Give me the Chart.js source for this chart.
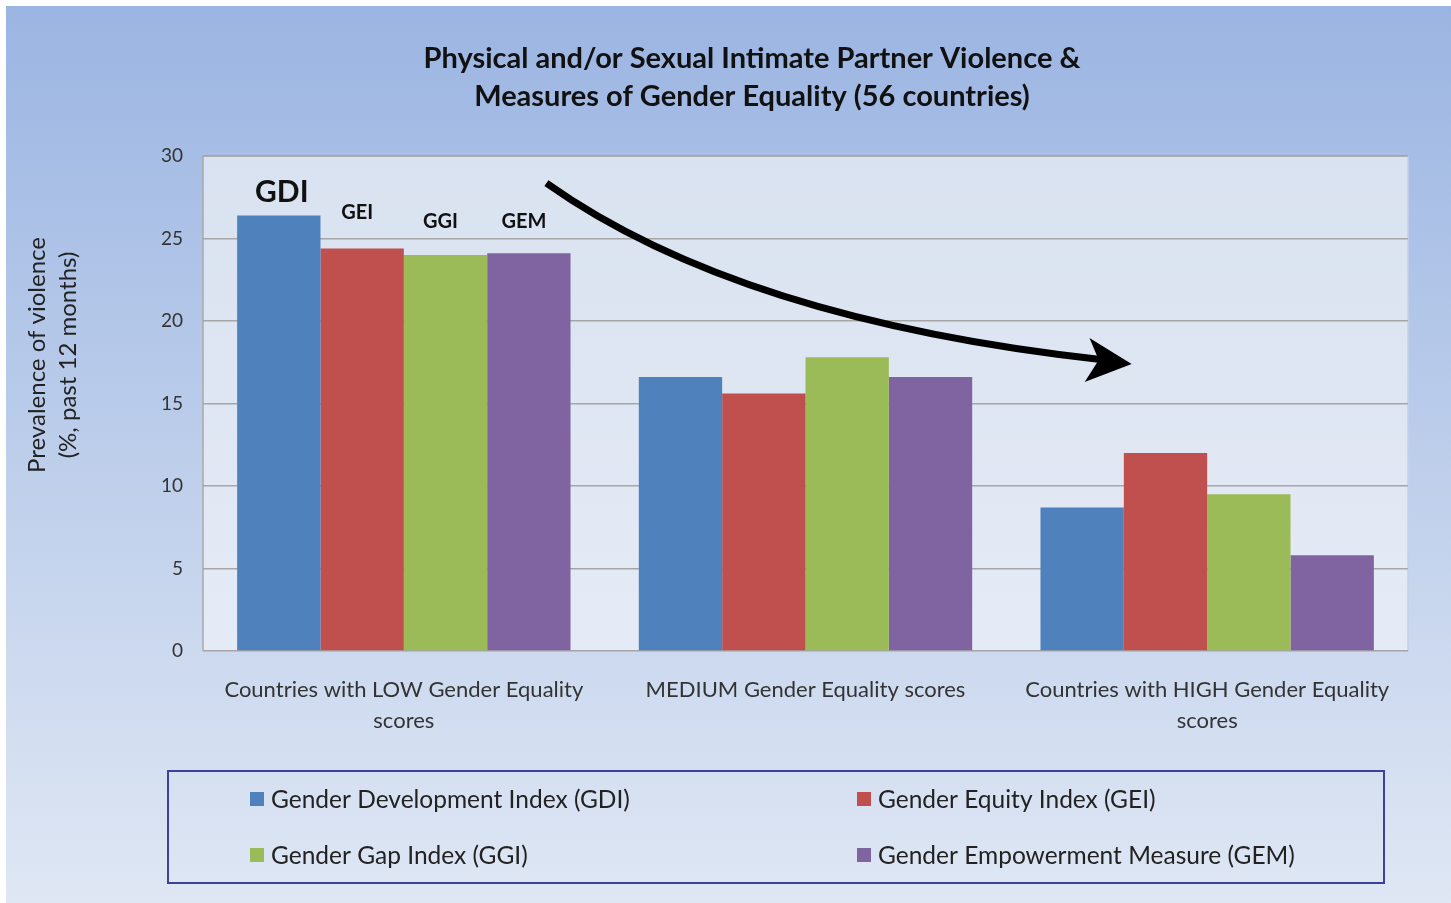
<!DOCTYPE html>
<html>
<head>
<meta charset="utf-8">
<script src="https://cdn.jsdelivr.net/npm/chart.js@4"></script>
<style>
  html, body { margin: 0; padding: 0; background: #fff; }
  #chartBox { width: 1451px; height: 903px; position: relative; }
</style>
</head>
<body>
<div id="chartBox"><canvas id="ipvChart"></canvas></div>
<script>
// categories (x axis)
const categories = [
  ["Countries with LOW Gender Equality", "scores"],
  "MEDIUM Gender Equality scores",
  ["Countries with HIGH Gender Equality", "scores"]
];

// series names + values
const seriesNames = ["Gender Development Index (GDI)", "Gender Equity Index (GEI)", "Gender Gap Index (GGI)", "Gender Empowerment Measure (GEM)"];
const gdiValues = [26.4, 16.6, 8.7];
const geiValues = [24.4, 15.6, 12.0];
const ggiValues = [24.0, 17.8, 9.5];
const gemValues = [24.1, 16.6, 5.8];

// short labels above the LOW group bars, and the value they sit at
const barTags = ["GDI", "GEI", "GGI", "GEM"];
const barTagLevels = [27.8, 26.6, 26.0, 26.0];

// y axis ticks
const yTicks = [0, 5, 10, 15, 20, 25, 30];

// trend arrow, in data units: [category index, value]
const arrowStart = [0.355, 28.36];
const arrowBend = [0.836, 20.06];
const arrowEnd = [1.745, 17.64];
const arrowTip = [1.812, 17.39];
const arrowBarbUp = [1.707, 18.97];
const arrowBarbDown = [1.695, 16.30];

const colors = ["#4f81bd", "#c0504d", "#9bbb59", "#8064a2"];
const FONT = "Lato, 'Open Sans', sans-serif";

const bgPlugin = {
  id: "bgPlugin",
  beforeDraw(chart) {
    const ctx = chart.ctx;
    const w = chart.width, h = chart.height;
    ctx.save();
    ctx.fillStyle = "#ffffff";
    ctx.fillRect(0, 0, w, h);
    let g = ctx.createLinearGradient(0, 6, 0, h);
    g.addColorStop(0, "#9bb5e2");
    g.addColorStop(1, "#dfe7f4");
    ctx.fillStyle = g;
    ctx.fillRect(6, 6, w - 6, h - 6);

    // plot area
    const a = chart.chartArea;
    g = ctx.createLinearGradient(0, a.top, 0, a.bottom);
    g.addColorStop(0, "#d9e2f0");
    g.addColorStop(1, "#e5ebf6");
    ctx.fillStyle = g;
    ctx.fillRect(a.left, a.top, a.right - a.left, a.bottom - a.top);
    ctx.strokeStyle = "#a9a9a9";
    ctx.lineWidth = 1.5;
    ctx.beginPath();
    ctx.moveTo(a.left, a.bottom);
    ctx.lineTo(a.left, a.top);
    ctx.lineTo(a.right, a.top);
    ctx.stroke();
    ctx.strokeStyle = "#c3d1ea";
    ctx.beginPath();
    ctx.moveTo(a.right, a.top);
    ctx.lineTo(a.right, a.bottom);
    ctx.stroke();
    ctx.restore();
  },
  afterDatasetsDraw(chart) {
    const ctx = chart.ctx;
    const xs = chart.scales.x, ys = chart.scales.y;
    const px = p => [xs.getPixelForValue(p[0]), ys.getPixelForValue(p[1])];

    // tags over the LOW group
    ctx.save();
    ctx.fillStyle = "#111";
    ctx.textAlign = "center";
    ctx.textBaseline = "middle";
    barTags.forEach((t, i) => {
      const bar = chart.getDatasetMeta(i).data[0];
      ctx.font = (i === 0 ? "bold 30px " : "bold 20px ") + FONT;
      ctx.fillText(t, bar.x + (i === 0 ? 3 : -5), ys.getPixelForValue(barTagLevels[i]));
    });

    // arrow
    const s = px(arrowStart), c = px(arrowBend), e = px(arrowEnd);
    ctx.strokeStyle = "#000";
    ctx.lineWidth = 7;
    ctx.beginPath();
    ctx.moveTo(s[0], s[1]);
    ctx.quadraticCurveTo(c[0], c[1], e[0], e[1]);
    ctx.stroke();
    const t = px(arrowTip), b1 = px(arrowBarbUp), b2 = px(arrowBarbDown);
    ctx.fillStyle = "#000";
    ctx.beginPath();
    ctx.moveTo(t[0], t[1]);
    ctx.lineTo(b1[0], b1[1]);
    ctx.lineTo(e[0] - 6, e[1]);
    ctx.lineTo(b2[0], b2[1]);
    ctx.closePath();
    ctx.fill();
    ctx.restore();
  },
  afterDraw(chart) {
    const ctx = chart.ctx;
    ctx.save();
    // title
    ctx.fillStyle = "#111";
    ctx.textAlign = "center";
    ctx.textBaseline = "middle";
    ctx.font = "bold 29px " + FONT;
    ctx.fillText("Physical and/or Sexual Intimate Partner Violence &", 752, 59);
    ctx.fillText("Measures of Gender Equality (56 countries)", 752, 97);

    // y axis title
    ctx.save();
    ctx.translate(37, 355);
    ctx.rotate(-Math.PI / 2);
    ctx.font = "24px " + FONT;
    ctx.fillStyle = "#222";
    ctx.fillText("Prevalence of violence", 0, 0);
    ctx.fillText("(%, past 12 months)", 0, 31);
    ctx.restore();

    // legend box
    ctx.strokeStyle = "#3f3f9e";
    ctx.lineWidth = 2;
    ctx.strokeRect(168, 771, 1216, 112);
    ctx.font = "24.5px " + FONT;
    ctx.textAlign = "left";
    chart.data.datasets.forEach((ds, i) => {
      const col = i % 2, row = Math.floor(i / 2);
      const x = col === 0 ? 250 : 857;
      const y = row === 0 ? 799 : 855;
      ctx.fillStyle = ds.backgroundColor;
      ctx.fillRect(x, y - 7, 14, 14);
      ctx.fillStyle = "#222";
      ctx.fillText(ds.label, x + 21, y + 1);
    });
    ctx.restore();
  }
};

const valueLists = [gdiValues, geiValues, ggiValues, gemValues];

let myChart = document.getElementById("ipvChart").getContext("2d");
let chart = new Chart(myChart, {
  type: "bar",
  data: {
    labels: categories,
    datasets: seriesNames.map((name, i) => ({
      label: name,
      data: valueLists[i],
      backgroundColor: colors[i],
      categoryPercentage: 0.83,
      barPercentage: 1.0,
    })),
  },
  options: {
    responsive: true,
    maintainAspectRatio: false,
    animation: false,
    layout: {
      padding: { top: 156, right: 43, left: 0, bottom: 0 },
    },
    plugins: {
      legend: { display: false },
      title: { display: false },
      tooltip: { enabled: false },
    },
    scales: {
      x: {
        grid: { display: false, drawTicks: false },
        border: { display: false },
        ticks: {
          color: "#333",
          padding: 24,
          maxRotation: 0,
          autoSkip: false,
          font: { family: FONT, size: 22, lineHeight: 1.4 },
        },
        afterFit(scale) { scale.height = 252; },
      },
      y: {
        min: 0,
        max: 30,
        afterBuildTicks(scale) { scale.ticks = yTicks.map(v => ({ value: v })); },
        grid: { color: "#a6a6a6", lineWidth: 1.5, drawTicks: false },
        border: { display: false },
        ticks: {
          color: "#333",
          padding: 20,
          font: { family: FONT, size: 19 },
        },
        afterFit(scale) { scale.width = 203; },
      },
    },
  },
  plugins: [bgPlugin],
});
</script>
</body>
</html>
